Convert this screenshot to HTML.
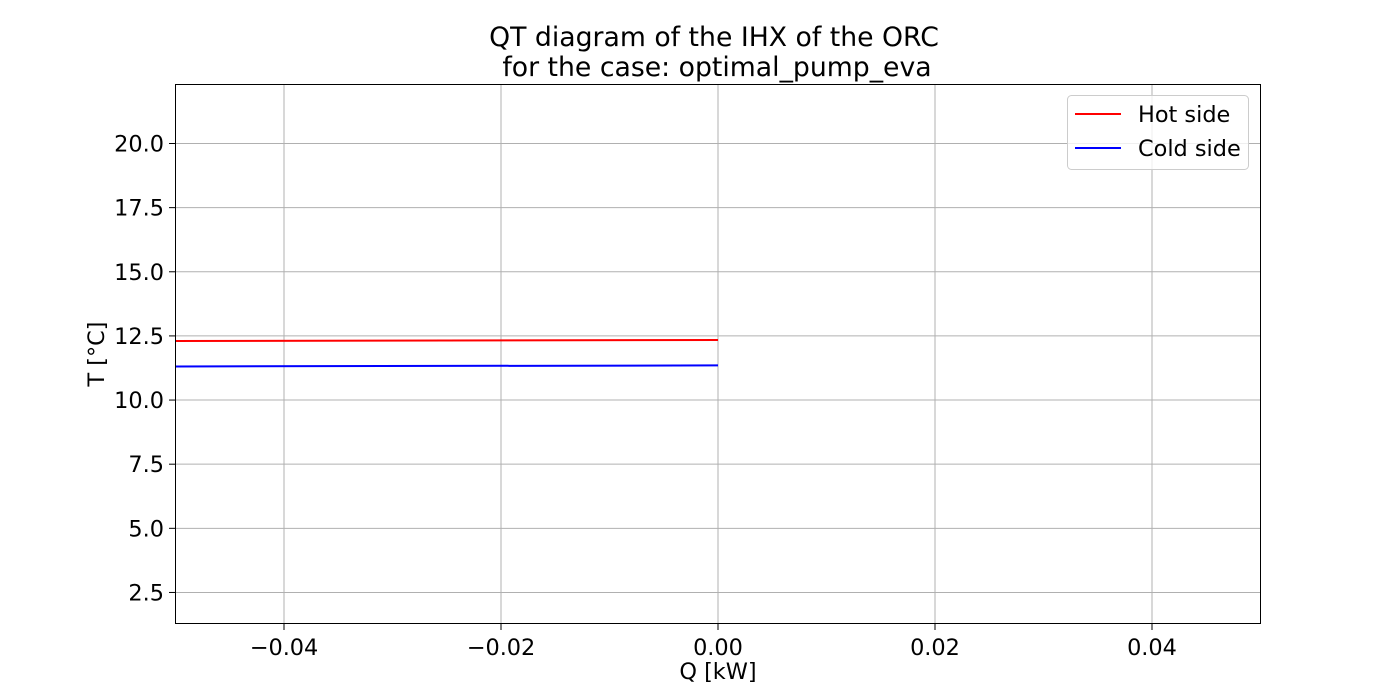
<!DOCTYPE html>
<html><head><meta charset="utf-8"><style>body{margin:0;background:#fff}svg{display:block;font-family:"DejaVu Sans","Liberation Sans",sans-serif}</style></head>
<body>
<svg id="chart" width="1400" height="700" viewBox="0 0 1400 700">
<text x="714" y="46" font-size="26.7" text-anchor="middle">QT diagram of the IHX of the ORC</text>
<text x="717" y="76" font-size="26.7" text-anchor="middle">for the case: optimal_pump_eva</text>
<g id="grid"></g><g id="series"></g>
<rect x="175.5" y="84.5" width="1085" height="539" fill="none" stroke="#000" stroke-width="1"/>
<g id="ticks"></g>
<text x="718" y="679" font-size="22.4" text-anchor="middle">Q [kW]</text>
<text transform="translate(104,354) rotate(-90)" font-size="22.4" text-anchor="middle">T [°C]</text>
<g>
<rect x="1067.5" y="95.5" width="181" height="74" rx="4" fill="#fff" fill-opacity="0.8" stroke="#ccc"/>
<line x1="1075" y1="114" x2="1121" y2="114" stroke="red" stroke-width="2"/>
<text x="1138" y="122" font-size="22.4">Hot side</text>
<line x1="1075" y1="148" x2="1121" y2="148" stroke="blue" stroke-width="2"/>
<text x="1138" y="156" font-size="22.4">Cold side</text>
</g>
</svg>
<script>
const xTicks=[-0.04,-0.02,0.00,0.02,0.04];
const xTickLabels=["−0.04","−0.02","0.00","0.02","0.04"];
const yTicks=[2.5,5.0,7.5,10.0,12.5,15.0,17.5,20.0];
const yTickLabels=["2.5","5.0","7.5","10.0","12.5","15.0","17.5","20.0"];
const qValues=[-0.05,0.0];
const hotT=[12.30,12.34];
const coldT=[11.31,11.35];
const X0=-0.05,X1=0.05,Y0=1.29,Y1=22.3;
const xs=v=>175.5+(v-X0)/(X1-X0)*1085;
const ys=v=>623.5-(v-Y0)/(Y1-Y0)*539;
const NS="http://www.w3.org/2000/svg";
const grid=document.getElementById('grid'),ticks=document.getElementById('ticks'),ser=document.getElementById('series');
function mk(tag,attrs,parent){const e=document.createElementNS(NS,tag);for(const k in attrs)e.setAttribute(k,attrs[k]);parent.appendChild(e);return e;}
xTicks.forEach((t,i)=>{const x=xs(t);
const g=mk('line',{x1:x,x2:x,y1:84.5,y2:623.5,stroke:'#b0b0b0','stroke-width':1},grid);


mk('line',{x1:x,x2:x,y1:623.5,y2:630,stroke:'#000'},ticks);
const l=mk('text',{x:x,y:655,'font-size':22.4,'text-anchor':'middle'},ticks);l.textContent=xTickLabels[i];

});
yTicks.forEach((t,i)=>{const y=ys(t);
const g=mk('line',{x1:175.5,x2:1260.5,y1:y,y2:y,stroke:'#b0b0b0','stroke-width':1},grid);


mk('line',{x1:169,x2:175.5,y1:y,y2:y,stroke:'#000'},ticks);
const l=mk('text',{x:164,y:y+8,'font-size':22.4,'text-anchor':'end'},ticks);l.textContent=yTickLabels[i];

});
function line(vals,color,name){const p=qValues.map((q,i)=>xs(q)+','+ys(vals[i])).join(' ');
const e=mk('polyline',{points:p,fill:'none',stroke:color,'stroke-width':2},ser);

}
line(hotT,'red','hot-side-line');
line(coldT,'blue','cold-side-line');
</script>
</body></html>
